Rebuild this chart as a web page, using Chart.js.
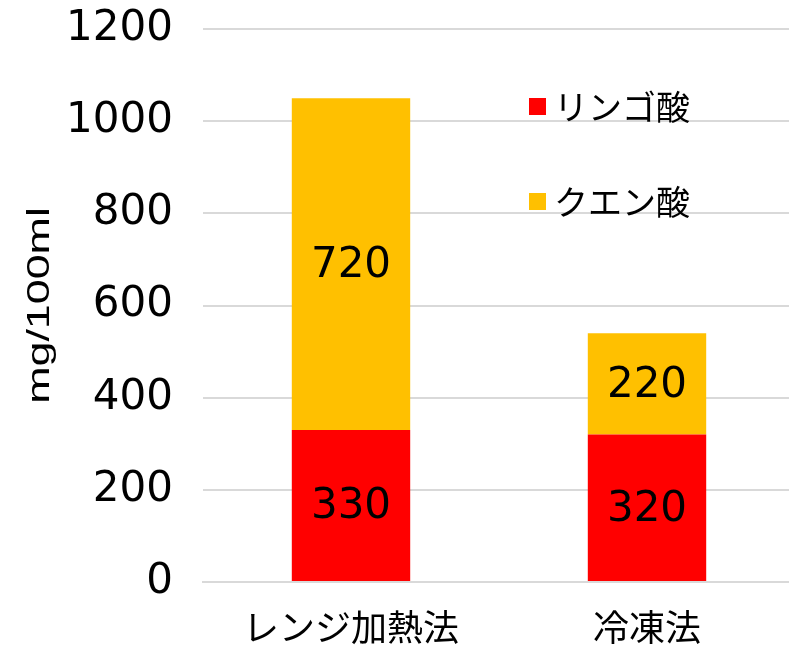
<!DOCTYPE html>
<html>
<head>
<meta charset="utf-8">
<script src="https://cdn.jsdelivr.net/npm/chart.js@4"></script>
<style>
  html, body { margin: 0; padding: 0; background: #ffffff; overflow: hidden; }
  #wrap { position: relative; width: 795px; height: 648px; }
</style>
</head>
<body>
<div id="wrap"><canvas id="chart"></canvas></div>
<script>
// ─── data ───
var categories = ['レンジ加熱法', '冷凍法'];
var seriesNames = ['リンゴ酸', 'クエン酸'];
var malicAcid = [330, 320];
var citricAcid = [720, 220];
var yTicks = [0, 200, 400, 600, 800, 1000, 1200];
var yTitle = 'mg/100ml';

var RED = '#ff0000';
var GOLD = '#ffc000';
var GRID = '#d9d9d9';
var JP = '"Noto Sans CJK JP", "Noto Sans", sans-serif';
var NUM = '"DejaVu Sans", sans-serif';

// value labels centred in each segment
var segmentLabels = {
  id: 'segmentLabels',
  afterDatasetsDraw: function (chart) {
    var ctx = chart.ctx;
    ctx.save();
    ctx.fillStyle = '#000';
    ctx.font = '42px ' + NUM;
    ctx.textAlign = 'center';
    ctx.textBaseline = 'middle';
    chart.data.datasets.forEach(function (ds, i) {
      chart.getDatasetMeta(i).data.forEach(function (bar, j) {
        ctx.fillText(String(ds.data[j]), bar.x, (bar.y + bar.base) / 2 + 2);
      });
    });
    ctx.restore();
  }
};

// legend drawn inside the plot area, top right
var innerLegend = {
  id: 'innerLegend',
  afterDraw: function (chart) {
    var ctx = chart.ctx, area = chart.chartArea;
    ctx.save();
    ctx.font = '34px ' + JP;
    ctx.textBaseline = 'middle';
    chart.data.datasets.forEach(function (ds, i) {
      var x = area.left + 326;
      var cy = area.top + 77 + i * 95;
      ctx.fillStyle = ds.backgroundColor;
      ctx.fillRect(x, cy - 8, 17, 17);
      ctx.fillStyle = '#000';
      ctx.fillText(ds.label, x + 25, cy + 1);
    });
    ctx.restore();
  }
};

// rotated y axis title
var yAxisTitle = {
  id: 'yAxisTitle',
  afterDraw: function (chart) {
    var ctx = chart.ctx, area = chart.chartArea;
    ctx.save();
    ctx.translate(40, (area.top + area.bottom) / 2);
    ctx.rotate(-Math.PI / 2);
    ctx.scale(1.4, 1);
    ctx.font = '32px "Liberation Sans", Arial, sans-serif';
    ctx.fillStyle = '#000';
    ctx.textAlign = 'center';
    ctx.textBaseline = 'middle';
    ctx.fillText(yTitle, 0, 0);
    ctx.restore();
  }
};

new Chart(document.getElementById('chart'), {
  type: 'bar',
  data: {
    labels: categories,
    datasets: [
      { label: seriesNames[0], data: malicAcid, backgroundColor: RED, borderWidth: 0 },
      { label: seriesNames[1], data: citricAcid, backgroundColor: GOLD, borderWidth: 0 }
    ]
  },
  options: {
    responsive: true,
    maintainAspectRatio: false,
    animation: false,
    layout: { padding: { top: 29, right: 0, left: 0, bottom: 0 } },
    categoryPercentage: 0.4,
    barPercentage: 1,
    plugins: {
      legend: { display: false },
      tooltip: { enabled: false }
    },
    scales: {
      x: {
        stacked: true,
        grid: { display: false, drawTicks: false },
        border: { display: true, color: GRID, width: 2 },
        ticks: { color: '#000', font: { size: 36, family: JP }, padding: 24 },
        afterFit: function (s) { s.height = 66; }
      },
      y: {
        stacked: true,
        min: 0,
        max: 1200,
        afterBuildTicks: function (s) { s.ticks = yTicks.map(function (v) { return { value: v }; }); },
        grid: { color: GRID, lineWidth: 2, drawTicks: false },
        border: { display: false },
        ticks: {
          color: '#000', font: { size: 42, family: NUM }, padding: 30,
          callback: function (v) { return String(v); }
        },
        afterFit: function (s) { s.width = 203; s.paddingTop = 0; s.paddingBottom = 0; }
      }
    }
  },
  plugins: [segmentLabels, innerLegend, yAxisTitle]
});
</script>
</body>
</html>
